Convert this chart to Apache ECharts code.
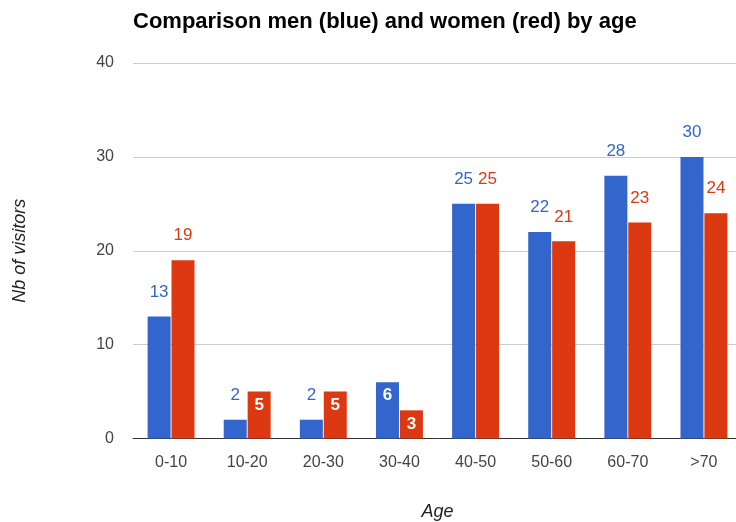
<!DOCTYPE html>
<html style="height: 100%">
<head>
    <meta charset="utf-8">
    <script type="text/javascript" src="https://cdn.jsdelivr.net/npm/echarts@6/dist/echarts.min.js"></script>
</head>
<body style="height: 100%; margin: 0; background: #fff; overflow: hidden">
<!-- the original chart is cropped on the right, so the canvas is a bit wider than the window -->
<div id="container" style="width: 742px; height: 522px"></div>
<script type="text/javascript">
var categories = ['0-10', '10-20', '20-30', '30-40', '40-50', '50-60', '60-70', '>70'];
var men = [13, 2, 2, 6, 25, 22, 28, 30];
var women = [19, 5, 5, 3, 25, 21, 23, 24];
var yTicks = [0, 10, 20, 30, 40];

var FONT = '"Liberation Sans", Arial, sans-serif';

// small bars get the value written inside, the others above the bar
function makeData(values, color) {
    return values.map(function (v) {
        var inside = v >= 3 && v < 10;
        return {
            value: v,
            label: inside ? {
                show: true, position: 'insideTop', distance: 5,
                color: '#fff', fontWeight: 'bold', fontSize: 17, fontFamily: FONT
            } : {
                show: true, position: 'top', distance: 16,
                color: color, fontSize: 17, fontFamily: FONT
            }
        };
    });
}

var dom = document.getElementById('container');
var myChart = echarts.init(dom, null, {renderer: 'canvas'});
var option = {
    animation: false,
    title: {
        text: 'Comparison men (blue) and women (red) by age',
        left: 128,
        top: 6,
        textStyle: {fontSize: 22, fontWeight: 'bold', color: '#000', fontFamily: FONT}
    },
    grid: {
        left: 133, right: 0, top: 63, bottom: 83.5,
        containLabel: false,
        outerBoundsMode: 'none'
    },
    xAxis: {
        type: 'category',
        data: categories,
        name: 'Age',
        nameLocation: 'middle',
        nameGap: 64,
        nameTextStyle: {fontStyle: 'italic', fontSize: 18, color: '#222', fontFamily: FONT},
        axisLine: {lineStyle: {color: '#333', width: 1}},
        axisTick: {show: false},
        axisLabel: {fontSize: 16, color: '#444', margin: 16, fontFamily: FONT}
    },
    yAxis: {
        type: 'value',
        min: yTicks[0],
        max: yTicks[yTicks.length - 1],
        interval: 10,
        name: 'Nb of visitors',
        nameLocation: 'middle',
        nameGap: 104,
        nameRotate: 90,
        nameTextStyle: {fontStyle: 'italic', fontSize: 18, color: '#222', fontFamily: FONT},
        axisLine: {show: false},
        axisTick: {show: false},
        axisLabel: {fontSize: 16, color: '#444', margin: 19, fontFamily: FONT},
        splitLine: {lineStyle: {color: '#ccc', width: 1}}
    },
    series: [{
        name: 'Men',
        type: 'bar',
        barWidth: 23,
        barGap: '4%',
        itemStyle: {color: '#3366cc'},
        data: makeData(men, '#3366cc')
    }, {
        name: 'Women',
        type: 'bar',
        barWidth: 23,
        barGap: '4%',
        itemStyle: {color: '#dc3912'},
        data: makeData(women, '#dc3912')
    }]
};
myChart.setOption(option, true);
</script>
</body>
</html>
